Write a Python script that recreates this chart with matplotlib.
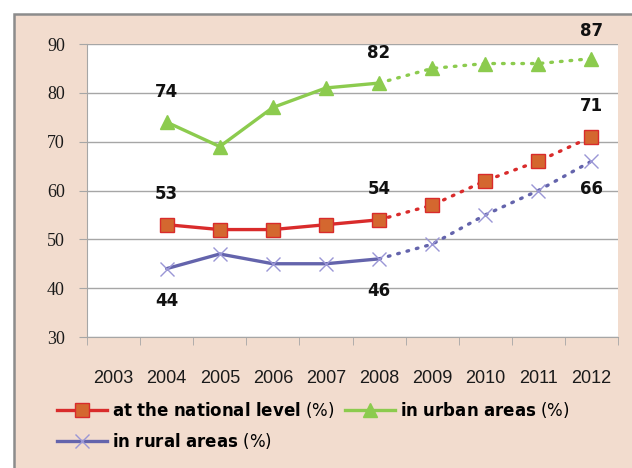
import matplotlib.pyplot as plt
from matplotlib.patches import Rectangle
from matplotlib.lines import Line2D

# data
years = ['2003', '2004', '2005', '2006', '2007', '2008', '2009', '2010', '2011', '2012']
data_years = years[1:]
national = [53, 52, 52, 53, 54, 57, 62, 66, 71]
urban = [74, 69, 77, 81, 82, 85, 86, 86, 87]
rural = [44, 47, 45, 45, 46, 49, 55, 60, 66]
yticks = [30, 40, 50, 60, 70, 80, 90]
split_year = '2008'   # solid up to here, dotted after
labelled_years = ['2004', '2008', '2012']

peach = '#F2DCCE'
red = '#D92B2B'
orange = '#D4672F'
green = '#8CCB4E'
purple = '#6464AC'
xpurple = '#9A96D6'

fig = plt.figure(figsize=(6.32, 4.68), dpi=100, facecolor='white')
# peach frame (cropped on right and bottom)
fig.patches.append(Rectangle((14 / 632, -0.1), 1.2, (468 - 14) / 468 + 0.1,
                             transform=fig.transFigure, facecolor=peach,
                             edgecolor='#8C8C8C', linewidth=1.8, zorder=-10))

ax = fig.add_axes([87 / 632, (468 - 337) / 468, (618 - 87) / 632, (337 - 44) / 468])
ax.set_facecolor('white')

xpos = {y: i for i, y in enumerate(years)}
xs = [xpos[y] for y in data_years]
k = data_years.index(split_year)

series = [
    (national, red, dict(marker='s', markersize=10, markerfacecolor=orange,
                         markeredgecolor=red, markeredgewidth=1)),
    (urban, green, dict(marker='^', markersize=10, markerfacecolor=green,
                        markeredgecolor=green)),
    (rural, purple, dict(marker='x', markersize=10, markeredgecolor=xpurple,
                         markeredgewidth=1)),
]
for vals, col, mk in series:
    ax.plot(xs[:k + 1], vals[:k + 1], color=col, lw=2.4, solid_capstyle='round', zorder=3)
    ax.plot(xs[k:], vals[k:], color=col, lw=2.4, linestyle=(0, (0.5, 2.4)),
            dash_capstyle='round', zorder=3)
    ax.plot(xs, vals, linestyle='none', zorder=4, **mk)

# value labels
for y in labelled_years:
    i = data_years.index(y)
    for vals, off in [(urban, 22), (national, 22), (rural, -23)]:
        if y == '2012' and vals is rural:
            off = -20
        if y == '2012' and vals is urban:
            off = 20
        ax.annotate(str(vals[i]), (xpos[y], vals[i]), xytext=(0, off),
                    textcoords='offset points', ha='center', va='center',
                    fontsize=12, fontweight='bold', color='#111111',
                    annotation_clip=False, zorder=5)

ax.set_xlim(-0.5, len(years) - 0.5)
ax.set_ylim(30, 90)
ax.set_yticks(yticks, [str(v) for v in yticks],
              fontfamily=['Liberation Serif', 'DejaVu Serif'], fontsize=13, color='#1a1a1a')
ax.yaxis.grid(True, color='#A6A6A6', lw=1)
ax.set_axisbelow(True)
for s in ['top', 'right']:
    ax.spines[s].set_visible(False)
for s in ['left', 'bottom']:
    ax.spines[s].set_color('#A6A6A6')
ax.tick_params(axis='y', length=6, color='#A6A6A6', pad=10)
ax.set_xticks(range(len(years)), years,
              fontfamily=['Liberation Sans Narrow', 'Liberation Sans', 'DejaVu Sans'],
              fontsize=13, color='#1a1a1a')
ax.tick_params(axis='x', length=0, pad=24)
ax.set_xticks([i - 0.5 for i in range(len(years) + 1)], minor=True)
ax.tick_params(axis='x', which='minor', length=6, color='#A6A6A6', direction='out')

handles = [
    Line2D([], [], color=red, lw=2.4, **series[0][2]),
    Line2D([], [], color=purple, lw=2.4, **series[2][2]),
    Line2D([], [], color=green, lw=2.4, **series[1][2]),
]
labels = [r'$\mathbf{at\ the\ national\ level}$ (%)',
          r'$\mathbf{in\ rural\ areas}$ (%)',
          r'$\mathbf{in\ urban\ areas}$ (%)']
fig.legend(handles, labels, ncol=2, loc='upper left',
           bbox_to_anchor=(57 / 632, (468 - 400) / 468), frameon=False,
           fontsize=12, handlelength=3.0, columnspacing=0.6, handletextpad=0.3,
           labelspacing=0.65, borderaxespad=0, borderpad=0)

fig.savefig('out.png', dpi=100)
